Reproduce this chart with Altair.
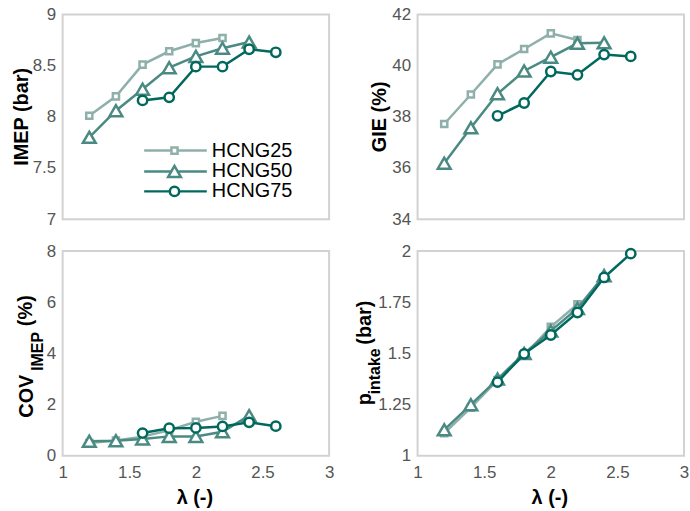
import altair as alt
import pandas as pd

FONT = "Liberation Sans"
W, H = 268, 206
LABEL_GRAY = "#555555"
PANEL_BG = "#eaeaea"
BORDER = "#d2d2d2"

# excess air ratio for each blend
lam_25 = [1.2, 1.4, 1.6, 1.8, 2.0, 2.2]
lam_50 = [1.2, 1.4, 1.6, 1.8, 2.0, 2.2, 2.4]
lam_75 = [1.6, 1.8, 2.0, 2.2, 2.4, 2.6]

# indicated mean effective pressure (bar)
imep_25 = [8.01, 8.20, 8.51, 8.64, 8.72, 8.77]
imep_50 = [7.80, 8.06, 8.27, 8.48, 8.59, 8.67, 8.73]
imep_75 = [8.16, 8.19, 8.49, 8.49, 8.66, 8.63]

# gross indicated efficiency (%)
gie_25 = [37.72, 38.87, 40.05, 40.65, 41.26, 41.00]
gie_50 = [36.19, 37.57, 38.90, 39.79, 40.33, 40.87, 40.89]
gie_75 = [38.04, 38.54, 39.77, 39.64, 40.43, 40.36]

# cycle-to-cycle variation of IMEP (%)
cov_25 = [0.50, 0.60, 0.75, 1.00, 1.33, 1.56]
cov_50 = [0.57, 0.59, 0.66, 0.76, 0.76, 0.94, 1.57]
cov_75 = [0.89, 1.08, 1.09, 1.15, 1.31, 1.16]

# intake pressure (bar)
pin_25 = [1.11, 1.235, 1.37, 1.49, 1.63, 1.74]
pin_50 = [1.127, 1.25, 1.375, 1.50, 1.61, 1.72, 1.88]
pin_75 = [1.36, 1.498, 1.59, 1.70, 1.871, 1.987]

series_names = ["HCNG25", "HCNG50", "HCNG75"]
series_lams = [lam_25, lam_50, lam_75]
series_colors = ["#8fb0aa", "#4a8a83", "#00685d"]
series_shapes = ["square", "triangle-up", "circle"]
series_sizes = [38, 165, 88]

lam_ticks = [1, 1.5, 2, 2.5, 3]
imep_ticks = [7, 7.5, 8, 8.5, 9]
gie_ticks = [34, 36, 38, 40, 42]
cov_ticks = [0, 2, 4, 6, 8]
pin_ticks = [1, 1.25, 1.5, 1.75, 2]

one_row = pd.DataFrame({"k": [0]})


def axis(values, show_labels, pad):
    return alt.Axis(
        values=values, format=".4~g", labels=show_labels, ticks=False,
        domain=False, title=None, grid=True, gridColor="white", gridWidth=2,
        labelFont=FONT, labelFontSize=17, labelColor=LABEL_GRAY,
        labelPadding=pad, labelFlush=False,
    )


def text_piece(text, x, y, size=20, angle=0):
    return alt.Chart(one_row).mark_text(
        text=text, font=FONT, fontSize=size, fontWeight="bold", color="black",
        angle=angle, align="center", baseline="middle",
    ).encode(x=alt.value(x), y=alt.value(y))


def anchor(x, y):
    # invisible point that pins the outer bounds of the figure
    return alt.Chart(one_row).mark_rule(opacity=0, strokeWidth=1).encode(
        x=alt.value(x), x2=alt.value(x), y=alt.value(y), y2=alt.value(y)
    )


def panel(values, yticks, title_parts, show_x, extras=()):
    x = alt.X("lam:Q", scale=alt.Scale(domain=[1, 3], nice=False, zero=False),
              axis=axis(lam_ticks, show_x, 9))
    y = alt.Y("val:Q", scale=alt.Scale(domain=[yticks[0], yticks[-1]], nice=False, zero=False),
              axis=axis(yticks, True, 7))

    border = alt.Chart(one_row).mark_rect(
        filled=False, stroke=BORDER, strokeWidth=2
    ).encode(x=alt.value(0), x2=alt.value(W), y=alt.value(0), y2=alt.value(H))

    layers = [border]
    for i, name in enumerate(series_names):
        df = pd.DataFrame({"lam": series_lams[i], "val": values[i]})
        base = alt.Chart(df).encode(x=x, y=y)
        layers.append(base.mark_line(color=series_colors[i], strokeWidth=2.5))
        layers.append(base.mark_point(
            shape=series_shapes[i], size=series_sizes[i], filled=True,
            fill="white", stroke=series_colors[i], strokeWidth=2.5, opacity=1,
        ))

    for t in title_parts:
        layers.append(text_piece(t[0], t[1], t[2], size=t[3], angle=270))

    if show_x:
        layers.append(text_piece("λ (-)", W / 2 - 1, H + 42))

    layers.extend(extras)
    return alt.layer(*layers).properties(width=W, height=H)


# legend drawn inside the IMEP panel
legend_rows = [137, 158, 178]
legend_layers = []
for i, name in enumerate(series_names):
    ry = legend_rows[i]
    legend_layers.append(
        alt.Chart(one_row).mark_rule(color=series_colors[i], strokeWidth=2.5).encode(
            x=alt.value(82), x2=alt.value(145), y=alt.value(ry), y2=alt.value(ry)
        )
    )
    legend_layers.append(
        alt.Chart(one_row).mark_point(
            shape=series_shapes[i], size=series_sizes[i], filled=True,
            fill="white", stroke=series_colors[i], strokeWidth=2.5, opacity=1,
        ).encode(x=alt.value(112.5), y=alt.value(ry))
    )
    legend_layers.append(
        alt.Chart(one_row).mark_text(
            text=name, font=FONT, fontSize=20, color="black",
            align="left", baseline="middle",
        ).encode(x=alt.value(150), y=alt.value(ry))
    )

p_imep = panel(
    [imep_25, imep_50, imep_75], imep_ticks,
    [("IMEP (bar)", -41, 103, 20)], False,
    extras=legend_layers + [anchor(-62, -12)],
)
p_gie = panel(
    [gie_25, gie_50, gie_75], gie_ticks,
    [("GIE (%)", -38, 103, 20)], False,
)
p_cov = panel(
    [cov_25, cov_50, cov_75], cov_ticks,
    [("COV", -36, 146, 20), ("IMEP", -25, 101, 16), ("(%)", -37, 60, 20)], True,
)
p_pin = panel(
    [pin_25, pin_50, pin_75], pin_ticks,
    [("p", -53, 149, 20), ("intake", -43, 121, 16), ("(bar)", -53, 72, 20)], True,
    extras=[anchor(W + 3, H + 55)],
)

chart = alt.concat(
    p_imep, p_gie, p_cov, p_pin,
    columns=2, spacing={"row": 32, "column": 89}, bounds="flush",
    padding={"left": 0, "top": 0, "right": 0, "bottom": 0},
).configure_view(fill=PANEL_BG, stroke="transparent").configure(background="white")

chart.save("out.html", embed_options={"renderer": "svg", "actions": False})
